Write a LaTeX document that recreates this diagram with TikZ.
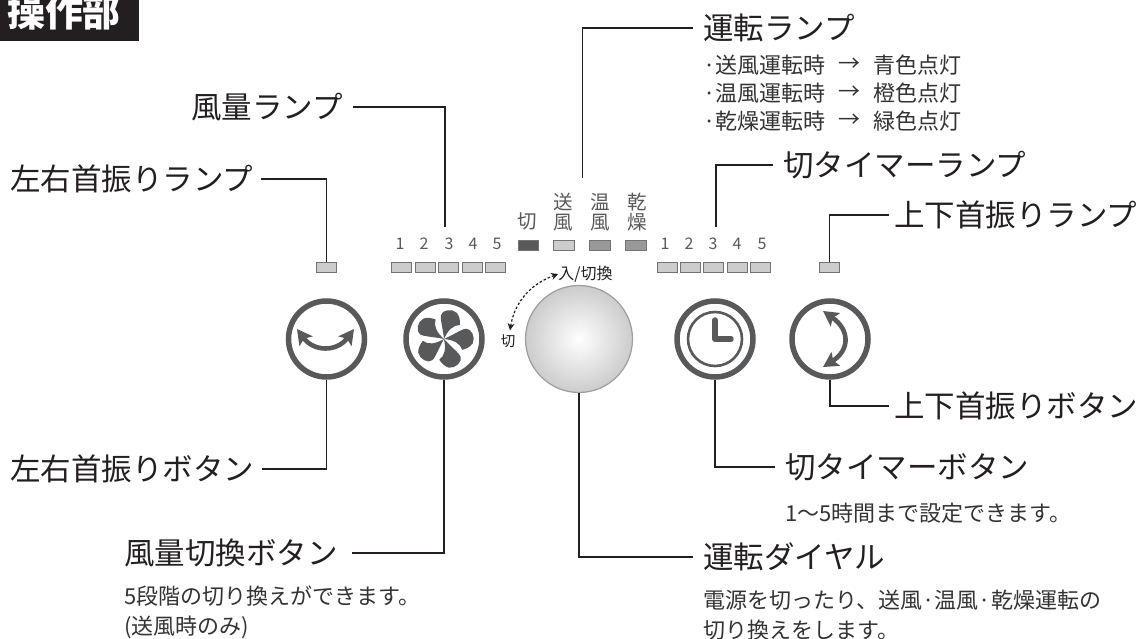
\documentclass[tikz,border=0pt]{standalone}
\usepackage{fontspec}
\setmainfont{Noto Sans CJK JP}
\usetikzlibrary{arrows.meta}
\tikzset{>=latex}
\definecolor{titleblack}{HTML}{231F20}
\definecolor{panelgray}{HTML}{58595B}
\colorlet{lamplight}{black!20}
\colorlet{lampmid}{black!40}
\tikzstyle{biglabel}=[anchor=west,inner sep=0,font=\fontsize{30.5}{30.5}\selectfont,text=titleblack]
\tikzstyle{sublabel}=[anchor=west,inner sep=0,font=\fontsize{22}{30}\selectfont,text=black!80,align=left]
\tikzstyle{leader}=[line width=1.8,draw=titleblack,line join=miter]
\tikzstyle{lamp}=[rectangle,draw=black!55,line width=1,minimum width=20.5,minimum height=10,inner sep=0]
\tikzstyle{panelnum}=[inner sep=0,font=\fontsize{16}{16}\selectfont,text=panelgray]
\tikzstyle{paneltext}=[inner sep=0,align=center,font=\fontsize{19.5}{19.5}\selectfont,text=panelgray]
\tikzstyle{button}=[circle,draw=panelgray,line width=5.5,minimum size=76,inner sep=0]
\tikzstyle{swingarrow}=[{Stealth[length=15pt,width=16pt,inset=3pt]}-{Stealth[length=15pt,width=16pt,inset=3pt]},line width=4.6pt,draw=panelgray]

\begin{document}
\begin{tikzpicture}[x=1pt,y=-1pt]

    \useasboundingbox (0,0) rectangle (1141,639);

    % title
    \fill[titleblack] (0,0) rectangle (139,41);
    \begin{scope}
    \clip (0,0) rectangle (139,41);
    \node[inner sep=0,text=white,font=\fontsize{38}{38}\selectfont\bfseries] (title) at (64,12) {操作部};
    \end{scope}

    % panel
    \node[lamp,fill=lamplight] (lampswing) at (326.5,268) {};
    \node[lamp,fill=lamplight] (lampupdown) at (829.5,268) {};
    \foreach \n/\x/\lx in {1/400/401.5,2/424/425.5,3/449/448.5,4/473/472.5,5/497/495.5} {
        \node[panelnum] (fannum\n) at (\x,244) {\n};
        \node[lamp,fill=lamplight] (fanlamp\n) at (\lx,268) {};
    }
    \foreach \n/\x/\lx in {1/665/667.5,2/689/690.5,3/713/713.5,4/737/737.5,5/762/760.5} {
        \node[panelnum] (timernum\n) at (\x,244) {\n};
        \node[lamp,fill=lamplight] (timerlamp\n) at (\lx,268) {};
    }
    \node[paneltext] (modeoff) at (527,221) {切};
    \node[paneltext] (modefan) at (563,212) {送\\風};
    \node[paneltext] (modewarm) at (600,212) {温\\風};
    \node[paneltext] (modedry) at (637,212) {乾\\燥};
    \node[lamp,fill=panelgray] (lampoff) at (528.5,245.5) {};
    \node[lamp,fill=lamplight] (lampfan) at (564,245.5) {};
    \node[lamp,fill=lampmid] (lampwarm) at (600,245.5) {};
    \node[lamp,fill=lampmid] (lampdry) at (636,245.5) {};

    % dial
    \node[circle,minimum size=107,inner sep=0,draw=black!38,line width=1.2,inner color=white,outer color=black!20] (dial) at (579,339) {};
    \node[inner sep=0,font=\fontsize{16}{16}\selectfont,text=titleblack] (dialon) at (585.5,274) {入/切換};
    \node[inner sep=0,font=\fontsize{14.5}{14.5}\selectfont,text=titleblack] (dialoff) at (508,341) {切};
    \draw[{Stealth[length=7pt,width=7pt]}-{Stealth[length=7pt,width=7pt]},line width=1.2,dash pattern=on 2.5pt off 2pt,titleblack] (dialoff.north) ++(2,-4) .. controls (514,305) and (528,285) .. (dialon.west);

    % buttons
    \node[button] (btnswing) at (326.5,339) {};
    \draw[swingarrow] (297,329) .. controls (314,352) and (337,352) .. (354,329);

    \node[button] (btnfan) at (444,339) {};
    \foreach \a in {0,72,...,288} {
        \fill[panelgray,shift={(btnfan.center)},rotate=\a] (0,0) .. controls (-1,-10) and (-4,-20) .. (-3,-24) .. controls (-2,-29) and (8,-31) .. (13,-26) .. controls (16,-22) and (16,-18) .. (16,-14) .. controls (9,-14) and (4,-9) .. (0,0);
    }

    \node[button] (btntimer) at (715,339) {};
    \node[circle,draw=panelgray,line width=2.6,minimum size=54,inner sep=0] (clockface) at (btntimer.center) {};
    \draw[panelgray,line width=5.4,line cap=round,line join=round] (715,320) -- (btntimer.center) -- (731,339);

    \node[button] (btnupdown) at (830,339) {};
    \draw[swingarrow] (823,311) .. controls (850,330) and (850,350) .. (823,367);

    % labels
    \node[biglabel] (lblfanlamp) at (191,107) {風量ランプ};
    \node[biglabel] (lblswinglamp) at (10,179) {左右首振りランプ};
    \node[biglabel] (lblswingbtn) at (10,469) {左右首振りボタン};
    \node[biglabel] (lblfanbtn) at (124,553) {風量切換ボタン};
    \node[sublabel] (subfanbtn) at (124,612) {5段階の切り換えができます。\\(送風時のみ)};
    \node[biglabel] (lblrunlamp) at (703,28) {運転ランプ};
    \foreach \r/\y/\a/\b in {1/65/送風/青,2/93/温風/橙,3/121/乾燥/緑} {
        \node[sublabel] (runmode\r) at (703,\y) {·\a 運転時};
        \node[sublabel] (runarrow\r) at (838,\y) {→};
        \node[sublabel] (runcolor\r) at (873,\y) {\b 色点灯};
    }
    \node[biglabel] (lbltimerlamp) at (783,165) {切タイマーランプ};
    \node[biglabel] (lblupdownlamp) at (894,215) {上下首振りランプ};
    \node[biglabel] (lblupdownbtn) at (894,406) {上下首振りボタン};
    \node[biglabel] (lbltimerbtn) at (785,467) {切タイマーボタン};
    \node[sublabel] (subtimerbtn) at (785,513) {1〜5時間まで設定できます。};
    \node[biglabel] (lbldial) at (703,557) {運転ダイヤル};
    \node[sublabel] (subdial) at (703,615.5) {電源を切ったり、送風·温風·乾燥運転の\\切り換えをします。};

    % connectors
    \coordinate (fantop) at (445,227);
    \coordinate (runtop) at (582.5,178);
    \coordinate (timertop) at (716,227);
    \draw[leader,shorten <=10pt] (lblfanlamp.east) -| (fantop);
    \draw[leader,shorten <=8pt] (lblswinglamp.east) -| (lampswing.north);
    \draw[leader,shorten <=10pt] (lblrunlamp.west) -| (runtop);
    \draw[leader,shorten <=10pt] (lbltimerlamp.west) -| (timertop);
    \draw[leader,shorten <=5pt] (lblupdownlamp.west) -| (lampupdown.north);
    \draw[leader,shorten <=8pt] (lblswingbtn.east) -| (btnswing.south);
    \draw[leader,shorten <=14pt] (lblfanbtn.east) -| (btnfan.south);
    \draw[leader,shorten <=5pt] (lblupdownbtn.west) -| (btnupdown.south);
    \draw[leader,shorten <=10pt] (lbltimerbtn.west) -| (btntimer.south);
    \draw[leader,shorten <=10pt] (lbldial.west) -| (dial.south);

\end{tikzpicture}
\end{document}
